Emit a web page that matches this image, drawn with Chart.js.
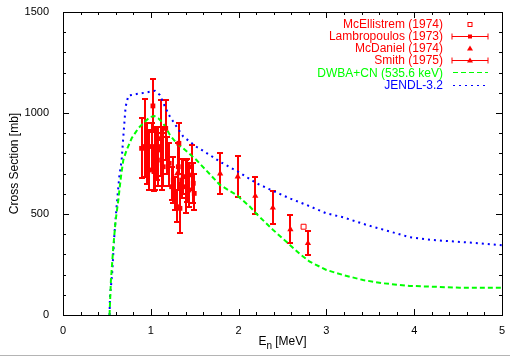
<!DOCTYPE html>
<html><head><meta charset="utf-8">
<script src="https://cdn.jsdelivr.net/npm/chart.js@4.4.0/dist/chart.umd.min.js"></script>
<style>html,body{margin:0;padding:0;background:#fff;}#wrap{width:510px;height:356px;position:relative;}</style>
</head><body><div id="wrap"><canvas id="c" width="510" height="356"></canvas></div>
<script>
// ---- data ----
const xTicks = [0, 1, 2, 3, 4, 5];
const yTicks = [0, 500, 1000, 1500];

const mcellX = [2.74];
const mcellY = [437];

const lambX  = [0.895,0.93,0.955,0.985,1.01,1.024,1.036,1.045,1.067,1.085,1.112,1.123,1.142,1.17,1.19,1.21,1.237,1.256,1.275,1.294,1.313,1.32,1.332,1.351,1.37,1.397,1.415,1.434,1.465,1.484,1.495];
const lambY  = [825,834,800,718,834,1035,710,817,751,817,834,767,734,924,800,751,635,668,586,536,734,850,528,668,685,635,668,619,734,652,602];
const lambLo = [676,682,650,619,718,905,615,619,668,640,690,620,640,767,700,640,569,553,520,462,619,700,404,580,600,503,560,536,619,553,520];
const lambHi = [973,1069,949,916,949,1166,817,932,932,932,1064,900,932,1064,880,850,734,784,685,619,850,949,652,770,770,767,770,751,842,751,700];

const mcdX = [1.10, 1.30, 1.45];
const mcdY = [870, 700, 690];

const smithX  = [1.79, 1.99, 2.19, 2.39, 2.59, 2.79];
const smithY  = [700, 685, 589, 531, 424, 355];
const smithLo = [597, 582, 498, 449, 355, 295];
const smithHi = [800, 787, 681, 614, 493, 414];

const dwbaX = [0.53,0.546,0.573,0.6,0.63,0.66,0.687,0.725,0.782,0.857,0.933,0.99,1.04,1.085,1.142,1.218,1.294,1.37,1.52,1.673,1.787,1.977,2.13,2.205,2.394,2.584,2.698,2.81,3.0,3.19,3.418,3.646,3.95,4.215,4.52,5.0];
const dwbaY = [0,173,338,470,569,685,767,817,875,924,957,980,985,974,949,891,850,825,767,697,644,594,536,500,421,347,302,264,223,198,173,157,144,140,135,135];

const jendlX = [0.53,0.535,0.56,0.584,0.61,0.641,0.668,0.687,0.713,0.744,0.838,0.952,1.047,1.104,1.161,1.218,1.294,1.37,1.52,1.673,1.787,1.996,2.205,2.394,2.584,2.774,3.0,3.19,3.457,3.685,3.95,4.215,4.48,4.747,5.0];
const jendlY = [0,90,206,388,536,685,767,883,1031,1086,1094,1102,1110,1089,1031,982,932,883,833,792,759,709,652,614,577,545,503,484,446,418,385,371,363,355,345];

const legendLabels = ['McEllistrem (1974)','Lambropoulos (1973)','McDaniel (1974)','Smith (1975)','DWBA+CN (535.6 keV)','JENDL-3.2'];

// ---- helpers ----
const RED = '#ff0000', GREEN = '#00ff00', BLUE = '#0000ff';
const FONT = '"Liberation Sans", Arial, sans-serif';
const pts = (xs, ys) => xs.map((x, i) => ({x: x, y: ys[i]}));

const datasets = [
  {label: legendLabels[5], data: pts(jendlX, jendlY), showLine: true, borderColor: BLUE, borderWidth: 2, borderDash: [2,4], pointRadius: 0, tension: 0, order: 3},
  {label: legendLabels[4], data: pts(dwbaX, dwbaY), showLine: true, borderColor: GREEN, borderWidth: 2, borderDash: [5,3], pointRadius: 0, tension: 0, order: 2},
  {label: legendLabels[0], data: pts(mcellX, mcellY), showLine: false, pointStyle: 'rect', pointRadius: 3.5, pointBorderColor: RED, pointBackgroundColor: 'rgba(0,0,0,0)', pointBorderWidth: 1, order: 1},
  {label: legendLabels[1], data: pts(lambX, lambY), errLo: lambLo, errHi: lambHi, showLine: false, pointStyle: 'rect', pointRadius: 3.4, pointBorderColor: RED, pointBackgroundColor: RED, pointBorderWidth: 0, order: 1},
  {label: legendLabels[2], data: pts(mcdX, mcdY), showLine: false, pointStyle: 'triangle', pointRadius: 3.4, pointBorderColor: RED, pointBackgroundColor: RED, pointBorderWidth: 0, order: 1},
  {label: legendLabels[3], data: pts(smithX, smithY), errLo: smithLo, errHi: smithHi, showLine: false, pointStyle: 'triangle', pointRadius: 3.6, pointBorderColor: RED, pointBackgroundColor: RED, pointBorderWidth: 0, order: 1}
];

const errorBars = {
  id: 'errorBars',
  beforeDatasetsDraw(chart) {
    const ctx = chart.ctx, xs = chart.scales.x, ys = chart.scales.y;
    ctx.save();
    ctx.strokeStyle = RED; ctx.lineWidth = 2;
    chart.data.datasets.forEach(ds => {
      if (!ds.errLo) return;
      ds.data.forEach((p, i) => {
        const px = Math.round(xs.getPixelForValue(p.x));
        const top = Math.round(ys.getPixelForValue(ds.errHi[i]));
        const bot = Math.round(ys.getPixelForValue(ds.errLo[i]));
        ctx.beginPath();
        ctx.moveTo(px, top - 1); ctx.lineTo(px, bot + 1);
        ctx.moveTo(px - 3, top); ctx.lineTo(px + 3, top);
        ctx.moveTo(px - 3, bot); ctx.lineTo(px + 3, bot);
        ctx.stroke();
      });
    });
    ctx.restore();
  }
};

function marker(ctx, style, x, y) {
  ctx.fillStyle = RED; ctx.strokeStyle = RED; ctx.lineWidth = 1;
  if (style === 'rect') ctx.fillRect(x - 2, y - 2, 4, 4);
  else if (style === 'open') ctx.strokeRect(x - 2, y - 2, 4, 4);
  else if (style === 'tri') { ctx.beginPath(); ctx.moveTo(x, y - 3); ctx.lineTo(x + 3, y + 2); ctx.lineTo(x - 3, y + 2); ctx.closePath(); ctx.fill(); }
}

const frame = {
  id: 'frame',
  beforeDraw(chart) {
    const ctx = chart.ctx;
    ctx.save();
    ctx.fillStyle = '#ffffff';
    ctx.fillRect(0, 0, chart.width, chart.height);
    ctx.restore();
  },
  afterDraw(chart) {
    const ctx = chart.ctx, a = chart.chartArea, xs = chart.scales.x, ys = chart.scales.y;
    ctx.save();
    // border
    ctx.strokeStyle = '#000'; ctx.lineWidth = 1;
    ctx.strokeRect(Math.round(a.left) + 0.5, Math.round(a.top) + 0.5, Math.round(a.right - a.left), Math.round(a.bottom - a.top));
    // ticks (inward, all sides)
    ctx.beginPath();
    for (let v = 0; v <= 5.0001; v += 0.2) {
      const major = Math.abs(v - Math.round(v)) < 1e-6;
      const L = major ? 6 : 3;
      const px = Math.round(xs.getPixelForValue(v)) + 0.5;
      ctx.moveTo(px, a.bottom); ctx.lineTo(px, a.bottom - L);
      ctx.moveTo(px, a.top); ctx.lineTo(px, a.top + L);
    }
    for (let v = 0; v <= 1500; v += 100) {
      const L = (v % 500 === 0) ? 6 : 3;
      const py = Math.round(ys.getPixelForValue(v)) + 0.5;
      ctx.moveTo(a.left, py); ctx.lineTo(a.left + L, py);
      ctx.moveTo(a.right, py); ctx.lineTo(a.right - L, py);
    }
    ctx.stroke();
    // axis titles
    ctx.fillStyle = '#000';
    ctx.font = '12px ' + FONT;
    ctx.textBaseline = 'middle';
    ctx.save();
    ctx.translate(15, (a.top + a.bottom) / 2);
    ctx.rotate(-Math.PI / 2);
    ctx.textAlign = 'center';
    ctx.fillText('Cross Section [mb]', 0, 0);
    ctx.restore();
    // x title with subscript
    const t1 = 'E', t2 = 'n', t3 = ' [MeV]';
    ctx.font = '12px ' + FONT; const w1 = ctx.measureText(t1).width, w3 = ctx.measureText(t3).width;
    ctx.font = '10px ' + FONT; const w2 = ctx.measureText(t2).width;
    let x0 = (a.left + a.right) / 2 - (w1 + w2 + w3) / 2;
    const yT = 342;
    ctx.textAlign = 'left';
    ctx.font = '12px ' + FONT; ctx.fillText(t1, x0, yT);
    ctx.font = '10px ' + FONT; ctx.fillText(t2, x0 + w1, yT + 4);
    ctx.font = '12px ' + FONT; ctx.fillText(t3, x0 + w1 + w2, yT);
    // legend
    const rows = [
      {text: legendLabels[0], color: RED, kind: 'pt', m: 'open'},
      {text: legendLabels[1], color: RED, kind: 'err', m: 'rect'},
      {text: legendLabels[2], color: RED, kind: 'pt', m: 'tri'},
      {text: legendLabels[3], color: RED, kind: 'err', m: 'tri'},
      {text: legendLabels[4], color: GREEN, kind: 'line', dash: [5,3]},
      {text: legendLabels[5], color: BLUE, kind: 'line', dash: [2,4]}
    ];
    ctx.font = '12px ' + FONT;
    ctx.textAlign = 'right';
    rows.forEach((r, i) => {
      const y = 23.5 + i * 12.2;
      ctx.fillStyle = r.color;
      ctx.fillText(r.text, 443, y + 1);
      const yy = Math.round(y) + 0.5;
      if (r.kind === 'err') {
        ctx.strokeStyle = RED; ctx.lineWidth = 1; ctx.setLineDash([]);
        ctx.beginPath();
        ctx.moveTo(452, yy); ctx.lineTo(488, yy);
        ctx.moveTo(452, yy - 3); ctx.lineTo(452, yy + 3);
        ctx.moveTo(488, yy - 3); ctx.lineTo(488, yy + 3);
        ctx.stroke();
        marker(ctx, r.m, 470, yy);
      } else if (r.kind === 'pt') {
        marker(ctx, r.m, 470, yy);
      } else {
        ctx.strokeStyle = r.color; ctx.lineWidth = 1; ctx.setLineDash(r.dash);
        ctx.beginPath(); ctx.moveTo(453, yy); ctx.lineTo(488, yy); ctx.stroke();
        ctx.setLineDash([]);
      }
    });
    // bottom gray edge
    ctx.fillStyle = '#b4b4b4';
    ctx.fillRect(0, 355, chart.width, 1);
    ctx.restore();
  }
};

new Chart(document.getElementById('c'), {
  type: 'scatter',
  data: {datasets: datasets},
  options: {
    responsive: false,
    devicePixelRatio: 1,
    animation: false,
    events: [],
    layout: {padding: {top: 12, right: 8, left: 0, bottom: 0}},
    plugins: {legend: {display: false}, tooltip: {enabled: false}, title: {display: false}},
    scales: {
      x: {
        type: 'linear', min: 0, max: 5,
        grid: {display: false, drawTicks: false},
        border: {display: false},
        afterBuildTicks(s) { s.ticks = xTicks.map(v => ({value: v})); },
        afterFit(s) { s.height = 41; s.paddingLeft = 0; s.paddingRight = 0; s.paddingTop = 0; s.paddingBottom = 0; },
        ticks: {padding: 9, color: '#000', font: {family: FONT, size: 11}, maxRotation: 0, autoSkip: false, callback: v => String(v)}
      },
      y: {
        type: 'linear', min: 0, max: 1500,
        grid: {display: false, drawTicks: false},
        border: {display: false},
        afterBuildTicks(s) { s.ticks = yTicks.map(v => ({value: v})); },
        afterFit(s) { s.width = 63; s.paddingLeft = 0; s.paddingRight = 0; s.paddingTop = 0; s.paddingBottom = 0; },
        ticks: {padding: 14, color: '#000', font: {family: FONT, size: 11}, autoSkip: false, callback: v => String(v)}
      }
    }
  },
  plugins: [frame, errorBars]
});
</script>
</body></html>
